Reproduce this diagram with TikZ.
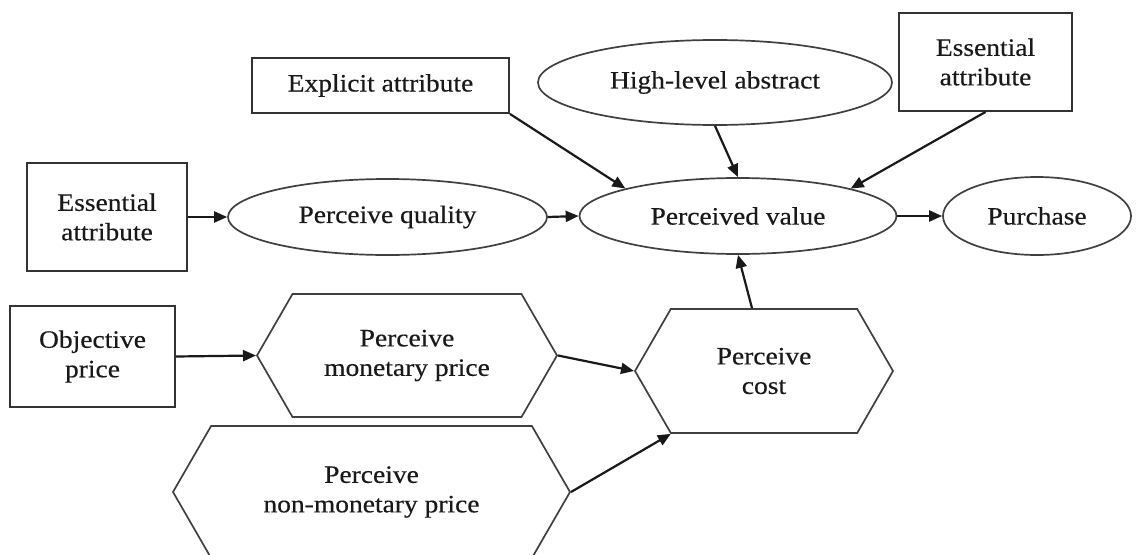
\documentclass[tikz,border=0pt]{standalone}
\usepackage{fontspec}
\setmainfont{Liberation Serif}[FakeStretch=1.1,FakeBold=0.4]
\usetikzlibrary{shapes.geometric,shapes.symbols,arrows.meta}

\begin{document}
\begin{tikzpicture}[x=1pt,y=-1pt,
  every node/.style={font=\fontsize{25}{29.5}\selectfont, text=black!90, align=center, inner sep=0pt},
  boxnode/.style={draw=black!80, line width=1.9pt, rectangle},
  ovalnode/.style={draw=black!75, line width=1.7pt, ellipse},
  hexnode/.style={draw=black!75, line width=1.7pt, signal, signal to=east and west, signal pointer angle=120},
  link/.style={-{Triangle[length=13pt,width=11pt]}, line width=2.2pt, draw=black!90}]

\useasboundingbox (0,0) rectangle (1137,554);

% top row
\node[boxnode, minimum width=257pt, minimum height=55pt] (ex) at (380.5,85.5) {Explicit attribute};
\node[ovalnode, minimum width=354pt, minimum height=85pt] (hl) at (715,82.5) {High-level abstract};
\node[boxnode, minimum width=173pt, minimum height=98pt] (er) at (985.5,62) {Essential\\attribute};

% middle row
\node[boxnode, minimum width=160pt, minimum height=108pt] (el) at (107,217) {Essential\\attribute};
\node[ovalnode, minimum width=319pt, minimum height=76pt] (q) at (387.5,217) {Perceive quality};
\node[ovalnode, minimum width=317pt, minimum height=76pt] (pv) at (738,216) {Perceived value};
\node[ovalnode, minimum width=188pt, minimum height=78pt] (pur) at (1037,216) {Purchase};

% price side
\node[boxnode, minimum width=165pt, minimum height=101pt] (obj) at (92.5,356.5) {Objective\\price};
\node[hexnode, minimum width=300pt, minimum height=123pt] (mon) at (407,355.5) {Perceive\\monetary price};
\node[hexnode, minimum width=258pt, minimum height=124pt] (cost) at (764,371) {Perceive\\cost};
\node[hexnode, minimum width=397pt, minimum height=132pt] (non) at (371.5,492) {Perceive\\non-monetary price};

% connectors
\draw[link] (el.east) -- (q.west);
\draw[link] (q.east) -- (pv.west);
\draw[link] (pv.east) -- (pur.west);
\draw[link] (ex.south east) -- (pv.north west);
\draw[link] (hl.south) -- (pv.north);
\draw[link] (er.south) -- (pv.north east);
\draw[link] (obj.east) -- (mon.west);
\draw[link] (mon.east) -- (cost.west);
\draw[link] (non.east) -- (cost.-146);
\draw[link] ([xshift=-12pt]cost.north) -- (pv.south);
\end{tikzpicture}
\end{document}
